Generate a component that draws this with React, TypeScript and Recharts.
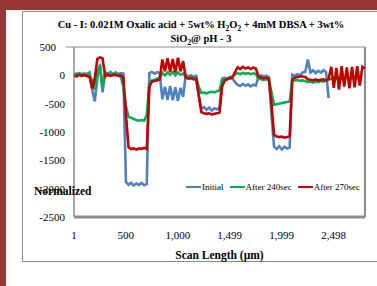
import React from "react";
import { LineChart, Line, XAxis, YAxis, Legend, ReferenceArea, ReferenceLine } from "recharts";

// scan positions (µm), sampled along the profile
const scanLength = [
  1, 26, 51, 76, 101, 126, 151, 176, 201, 226,
  251, 276, 301, 326, 351, 376, 401, 426, 451, 476,
  501, 526, 551, 576, 601, 626, 651, 676, 701, 726,
  751, 776, 801, 826, 851, 876, 901, 926, 951, 976,
  1001, 1026, 1051, 1076, 1101, 1126, 1151, 1176, 1201, 1226,
  1251, 1276, 1301, 1326, 1351, 1376, 1401, 1426, 1451, 1476,
  1501, 1526, 1551, 1576, 1601, 1626, 1651, 1676, 1701, 1726,
  1751, 1776, 1801, 1826, 1851, 1876, 1901, 1926, 1951, 1976,
  2001, 2026, 2051, 2076, 2101, 2126, 2151, 2176, 2201, 2226,
  2251, 2276, 2301, 2326, 2351, 2376, 2401, 2426, 2451, 2476,
  2501, 2526, 2551, 2576, 2601, 2626, 2651, 2676, 2701, 2726,
  2751, 2776, 2801,
];

const initial = [
  30, 10, 40, 0, 35, 20, 50, -250, -460, -50,
  190, -300, 60, 20, 60, 10, 50, 20, 40, 30,
  -1880, -1930, -1900, -1945, -1910, -1935, -1900, -1940, -1915, 40,
  60, 30, 55, 40, -420, -200, -430, -190, -440, -210,
  -450, -220, -380, 10, -20, 0, -30, -10, -350, -590,
  -560, -610, -570, -620, -580, -600, -570, -60, -40, -70,
  -40, -60, -120, -170, -190, -150, -185, -160, -195, -165,
  -180, -20, 0, -20, -10, -30, -700, -1260, -1300, -1250,
  -1310, -1260, -1290, -1270, 10, -10, 20, 0, 50, 60,
  280, 50, 90, 40, 80, 50, 90, 60, -400,
];

const after240 = [
  20, 30, 10, 30, 15, 25, 0, -100, -250, 60,
  150, -200, 20, 30, 10, 30, 20, 10, -30, -200,
  -550, -730, -750, -770, -790, -800, -790, -800, -700, -150,
  -90, -80, -60, -40, 40, 0, 50, 10, 60, 0,
  50, 10, 30, -30, -40, -30, -50, -40, -200, -310,
  -300, -320, -300, -290, -300, -280, -270, -80, -70, -50,
  -30, -20, 20, 40, 20, 45, 25, 40, 20, 35,
  20, -60, -70, -80, -70, -80, -300, -520, -510, -500,
  -490, -480, -470, -460, -90, -90, -80, -100, -90, -100,
  -120, -110, -130, -110, -120, -100, -110, -90, -80, -60,
  -50, -60, -40, -60, -50, -40, -60, -50, -40, -50,
  -60,
];

const after270 = [
  0, -20, 10, -10, 5, -15, -30, -230, -50, 290,
  320, 300, -20, 10, -10, 0, 10, -10, 0, -40,
  -700, -1270, -1300, -1290, -1310, -1290, -1300, -1280, -1300, -200,
  -110, -100, -90, -70, 280, 70, 300, 60, 290, 50,
  310, 70, 250, -40, -60, -50, -70, -60, -350, -650,
  -670, -680, -670, -690, -680, -670, -660, -200, -90, -70,
  -50, -40, 60, 140, 110, 150, 120, 140, 110, 135,
  120, -20, -40, -50, -40, -60, -500, -1050, -1080, -1090,
  -1080, -1100, -1090, -1080, -80, -40, -30, -20, -20, -30,
  -70, -80, -90, -70, -90, -80, -70, -90, -60, 150,
  -220, 130, -250, 160, -200, 140, -230, 150, -210, 160,
  -180, 150, 120,
];

const seriesNames = ["Initial", "After 240sec", "After 270sec"];
const seriesKeys = ["initial", "after240", "after270"];
const seriesColors = ["#4F81BD", "#00B050", "#C00000"];
const xTicks = [1, 500, 1000, 1499, 1999, 2498];
const yTicks = [500, 0, -500, -1000, -1500, -2000, -2500];

const data = scanLength.map((x, i) => ({
  x,
  initial: initial[i] ?? null,
  after240: after240[i] ?? null,
  after270: after270[i] ?? null,
}));

const FONT = '"Liberation Serif", "Times New Roman", serif';
const FRAME = "#953735";
const subStyle = { fontSize: "0.7em", lineHeight: 0 };

const XTick = (props: any) => {
  const { x, y, payload } = props;
  return (
    <text x={x} y={y + 22} textAnchor="middle" fontSize={11} fontFamily={FONT} fill="#000">
      {Number(payload.value).toLocaleString("en-US")}
    </text>
  );
};

const YTick = (props: any) => {
  const { x, y, payload } = props;
  const top = payload.value === 500;
  return (
    <g>
      {top && <line x1={x + 1} x2={x + 9} y1={y} y2={y} stroke="#8c8c8c" />}
      <text x={top ? x - 9 : x} y={y + 4} textAnchor="end" fontSize={11} fontFamily={FONT} fill="#000">
        {payload.value}
      </text>
    </g>
  );
};

const renderLegend = () => (
  <div style={{ display: "flex", alignItems: "center", fontFamily: FONT, fontSize: 9, whiteSpace: "nowrap", color: "#000" }}>
    {seriesNames.map((name, i) => (
      <span key={name} style={{ display: "flex", alignItems: "center", marginRight: 6 }}>
        <span style={{ display: "inline-block", width: 15, height: 2, background: seriesColors[i], marginRight: 1 }} />
        {name}
      </span>
    ))}
  </div>
);

export default function App() {
  return (
    <div style={{ position: "fixed", left: 0, top: 0, width: 377, height: 286, background: "#fff", overflow: "hidden", fontFamily: FONT }}>
      <div style={{ position: "absolute", left: 0, top: 0, width: 377, height: 10, background: FRAME }} />
      <div style={{ position: "absolute", left: 0, top: 0, width: 6, height: 286, background: FRAME }} />
      <div style={{ position: "absolute", left: 22, top: 11, width: 370, height: 251, border: "1px solid #8c8c8c", boxSizing: "border-box" }} />
      <div style={{ position: "absolute", left: 22, width: 358, top: 18, textAlign: "center", fontWeight: "bold", fontSize: 10.5, lineHeight: "14px", color: "#000" }}>
        Cu - I: 0.021M Oxalic acid + 5wt% H<sub style={subStyle}>2</sub>O<sub style={subStyle}>2</sub> + 4mM DBSA + 3wt%
        <br />
        SiO<sub style={subStyle}>2</sub>@ pH - 3
      </div>
      <div style={{ position: "absolute", left: 0, top: 0 }}>
        <LineChart width={377} height={286} data={data} margin={{ top: 47, right: 12, bottom: 39, left: 34 }}>
          <ReferenceArea x1={1} x2={2801} y1={-2500} y2={500} fill="none" stroke="#8c8c8c" ifOverflow="visible" />
          <ReferenceLine x={2801} stroke="#8c8c8c" strokeWidth={2} ifOverflow="visible" />
          <XAxis
            type="number"
            dataKey="x"
            domain={[1, 2801]}
            ticks={xTicks}
            height={30}
            tickSize={0}
            tickMargin={0}
            tickLine={false}
            axisLine={{ stroke: "#8c8c8c", strokeWidth: 3 }}
            tick={<XTick />}
            label={{
              content: (p: any) => (
                <text x={p.viewBox.x + p.viewBox.width / 2} y={p.viewBox.y + 42} textAnchor="middle" fontSize={11.5} fontWeight="bold" fontFamily={FONT} fill="#000">
                  Scan Length (µm)
                </text>
              ),
            }}
          />
          <YAxis
            type="number"
            domain={[-2500, 500]}
            ticks={yTicks}
            width={40}
            tickSize={0}
            tickMargin={9}
            tickLine={false}
            axisLine={{ stroke: "#8c8c8c" }}
            tick={<YTick />}
            label={{
              content: (p: any) => (
                <text x={p.viewBox.x} y={p.viewBox.y + p.viewBox.height - 22} fontSize={11.5} fontWeight="bold" fontFamily={FONT} fill="#000">
                  Normalized
                </text>
              ),
            }}
          />
          <Legend
            layout="vertical"
            align="center"
            verticalAlign="middle"
            content={renderLegend}
            wrapperStyle={{ left: 186, top: 182, width: 190, height: 12 }}
          />
          {seriesKeys.map((k, i) => (
            <Line
              key={k}
              type="linear"
              dataKey={k}
              name={seriesNames[i]}
              stroke={seriesColors[i]}
              strokeWidth={2.6}
              dot={false}
              activeDot={false}
              isAnimationActive={false}
            />
          ))}
        </LineChart>
      </div>
    </div>
  );
}
